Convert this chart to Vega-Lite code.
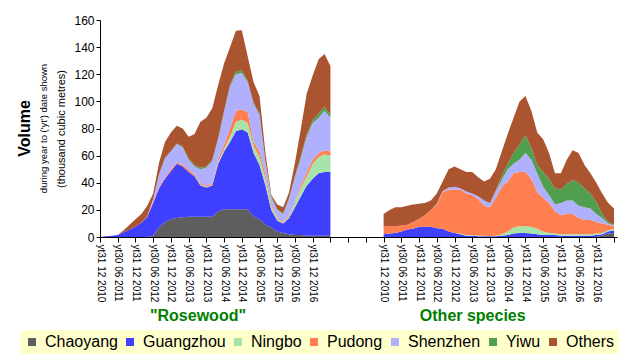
{
  "$schema": "https://vega.github.io/schema/vega-lite/v6.json",
  "width": 517,
  "height": 217,
  "autosize": {"type": "none"},
  "padding": {"left": 100, "top": 20, "right": 11, "bottom": 125},
  "background": "white",
  "datasets": {
    "series": [
      {"s": "Chaoyang", "k": 1}, {"s": "Guangzhou", "k": 2}, {"s": "Ningbo", "k": 3},
      {"s": "Pudong", "k": 4}, {"s": "Shenzhen", "k": 5}, {"s": "Yiwu", "k": 6}, {"s": "Others", "k": 7}
    ]
  },
  "data": {"values": [
    {"m":0,"b":"R","Chaoyang":0,"Guangzhou":0,"Ningbo":0,"Pudong":0,"Shenzhen":0,"Yiwu":0,"Others":0},
    {"m":2,"b":"R","Chaoyang":0,"Guangzhou":0.5,"Ningbo":0,"Pudong":0,"Shenzhen":0,"Yiwu":0,"Others":0},
    {"m":4,"b":"R","Chaoyang":0,"Guangzhou":1,"Ningbo":0,"Pudong":0,"Shenzhen":0,"Yiwu":0,"Others":0},
    {"m":6,"b":"R","Chaoyang":0,"Guangzhou":1.5,"Ningbo":0,"Pudong":0,"Shenzhen":0,"Yiwu":0,"Others":0},
    {"m":8,"b":"R","Chaoyang":0,"Guangzhou":3.5,"Ningbo":0,"Pudong":0,"Shenzhen":0,"Yiwu":0,"Others":1.5},
    {"m":10,"b":"R","Chaoyang":0,"Guangzhou":5.5,"Ningbo":0,"Pudong":0,"Shenzhen":0,"Yiwu":0,"Others":3.5},
    {"m":12,"b":"R","Chaoyang":0,"Guangzhou":7.5,"Ningbo":0,"Pudong":0,"Shenzhen":0,"Yiwu":0,"Others":5.5},
    {"m":14,"b":"R","Chaoyang":0,"Guangzhou":10.5,"Ningbo":0,"Pudong":0,"Shenzhen":0,"Yiwu":0,"Others":6.5},
    {"m":16,"b":"R","Chaoyang":0,"Guangzhou":15,"Ningbo":0,"Pudong":0.5,"Shenzhen":0,"Yiwu":0,"Others":7.5},
    {"m":18,"b":"R","Chaoyang":1,"Guangzhou":24,"Ningbo":0,"Pudong":1,"Shenzhen":2,"Yiwu":0,"Others":4},
    {"m":20,"b":"R","Chaoyang":7,"Guangzhou":29,"Ningbo":0,"Pudong":1,"Shenzhen":9,"Yiwu":0.5,"Others":8.5},
    {"m":22,"b":"R","Chaoyang":11,"Guangzhou":32,"Ningbo":0,"Pudong":1,"Shenzhen":14,"Yiwu":0.5,"Others":11.5},
    {"m":24,"b":"R","Chaoyang":13,"Guangzhou":35.5,"Ningbo":0,"Pudong":1.5,"Shenzhen":13,"Yiwu":0.5,"Others":13.5},
    {"m":26,"b":"R","Chaoyang":14,"Guangzhou":40,"Ningbo":0,"Pudong":1,"Shenzhen":13.5,"Yiwu":0.5,"Others":13},
    {"m":28,"b":"R","Chaoyang":14.5,"Guangzhou":37.5,"Ningbo":0,"Pudong":1,"Shenzhen":13,"Yiwu":0.5,"Others":13.5},
    {"m":30,"b":"R","Chaoyang":15,"Guangzhou":33,"Ningbo":0,"Pudong":1.5,"Shenzhen":7.5,"Yiwu":1,"Others":16},
    {"m":32,"b":"R","Chaoyang":15,"Guangzhou":29.8,"Ningbo":0.2,"Pudong":1,"Shenzhen":6,"Yiwu":1,"Others":23},
    {"m":34,"b":"R","Chaoyang":15,"Guangzhou":23,"Ningbo":0.5,"Pudong":1,"Shenzhen":10.5,"Yiwu":1,"Others":34},
    {"m":36,"b":"R","Chaoyang":15,"Guangzhou":21.5,"Ningbo":0.5,"Pudong":1,"Shenzhen":13,"Yiwu":1,"Others":36},
    {"m":38,"b":"R","Chaoyang":15,"Guangzhou":23,"Ningbo":0.5,"Pudong":1,"Shenzhen":16.5,"Yiwu":1,"Others":38},
    {"m":40,"b":"R","Chaoyang":19,"Guangzhou":35,"Ningbo":1.5,"Pudong":2,"Shenzhen":14.5,"Yiwu":1,"Others":39},
    {"m":42,"b":"R","Chaoyang":20.5,"Guangzhou":42.5,"Ningbo":2,"Pudong":3,"Shenzhen":24,"Yiwu":1,"Others":35},
    {"m":44,"b":"R","Chaoyang":20.5,"Guangzhou":49.5,"Ningbo":4,"Pudong":6,"Shenzhen":31,"Yiwu":1,"Others":28},
    {"m":46,"b":"R","Chaoyang":20.5,"Guangzhou":57.5,"Ningbo":7,"Pudong":8,"Shenzhen":27,"Yiwu":2,"Others":30},
    {"m":48,"b":"R","Chaoyang":20.5,"Guangzhou":59,"Ningbo":7,"Pudong":7.5,"Shenzhen":27,"Yiwu":2,"Others":29.5},
    {"m":50,"b":"R","Chaoyang":20.5,"Guangzhou":56.5,"Ningbo":7,"Pudong":8,"Shenzhen":22,"Yiwu":1,"Others":18},
    {"m":52,"b":"R","Chaoyang":15,"Guangzhou":47,"Ningbo":5,"Pudong":3,"Shenzhen":28,"Yiwu":1,"Others":15},
    {"m":54,"b":"R","Chaoyang":13,"Guangzhou":40,"Ningbo":6,"Pudong":4,"Shenzhen":27,"Yiwu":1,"Others":13},
    {"m":56,"b":"R","Chaoyang":9,"Guangzhou":29,"Ningbo":5,"Pudong":3,"Shenzhen":9,"Yiwu":1,"Others":6},
    {"m":58,"b":"R","Chaoyang":7,"Guangzhou":13,"Ningbo":3,"Pudong":2,"Shenzhen":4,"Yiwu":1,"Others":1},
    {"m":60,"b":"R","Chaoyang":4,"Guangzhou":8,"Ningbo":1,"Pudong":1,"Shenzhen":6,"Yiwu":0.5,"Others":3.5},
    {"m":62,"b":"R","Chaoyang":3,"Guangzhou":7,"Ningbo":0.5,"Pudong":0.5,"Shenzhen":6,"Yiwu":0.5,"Others":4.5},
    {"m":64,"b":"R","Chaoyang":2,"Guangzhou":12,"Ningbo":1,"Pudong":1,"Shenzhen":12,"Yiwu":1,"Others":4},
    {"m":66,"b":"R","Chaoyang":1.5,"Guangzhou":20.5,"Ningbo":3,"Pudong":1,"Shenzhen":18,"Yiwu":1,"Others":10},
    {"m":68,"b":"R","Chaoyang":1.5,"Guangzhou":28.5,"Ningbo":6,"Pudong":2,"Shenzhen":20,"Yiwu":2,"Others":20},
    {"m":70,"b":"R","Chaoyang":1,"Guangzhou":37,"Ningbo":7,"Pudong":3,"Shenzhen":26,"Yiwu":2,"Others":30},
    {"m":72,"b":"R","Chaoyang":1,"Guangzhou":42,"Ningbo":11,"Pudong":3,"Shenzhen":27,"Yiwu":2,"Others":33},
    {"m":74,"b":"R","Chaoyang":1,"Guangzhou":46,"Ningbo":12,"Pudong":3,"Shenzhen":26,"Yiwu":3,"Others":40},
    {"m":76,"b":"R","Chaoyang":1,"Guangzhou":47,"Ningbo":13,"Pudong":3,"Shenzhen":29,"Yiwu":3,"Others":39},
    {"m":78,"b":"R","Chaoyang":1,"Guangzhou":47,"Ningbo":12,"Pudong":3,"Shenzhen":25,"Yiwu":2,"Others":36},
    {"m":96,"b":"O","Chaoyang":0,"Guangzhou":2,"Ningbo":0,"Pudong":6,"Shenzhen":0,"Yiwu":0,"Others":9},
    {"m":98,"b":"O","Chaoyang":0,"Guangzhou":2.5,"Ningbo":0,"Pudong":5.5,"Shenzhen":0,"Yiwu":0,"Others":12},
    {"m":100,"b":"O","Chaoyang":0,"Guangzhou":3,"Ningbo":0,"Pudong":5,"Shenzhen":0,"Yiwu":0,"Others":14},
    {"m":102,"b":"O","Chaoyang":0,"Guangzhou":4,"Ningbo":0,"Pudong":4.5,"Shenzhen":0,"Yiwu":0,"Others":13.5},
    {"m":104,"b":"O","Chaoyang":0,"Guangzhou":5.5,"Ningbo":0,"Pudong":3.5,"Shenzhen":0,"Yiwu":0,"Others":14},
    {"m":106,"b":"O","Chaoyang":0,"Guangzhou":6,"Ningbo":0,"Pudong":5,"Shenzhen":0,"Yiwu":0,"Others":13},
    {"m":108,"b":"O","Chaoyang":0,"Guangzhou":7.5,"Ningbo":0,"Pudong":6,"Shenzhen":0,"Yiwu":0,"Others":11},
    {"m":110,"b":"O","Chaoyang":0,"Guangzhou":7.5,"Ningbo":0,"Pudong":8.5,"Shenzhen":0,"Yiwu":0,"Others":9},
    {"m":112,"b":"O","Chaoyang":0,"Guangzhou":7.5,"Ningbo":0,"Pudong":12.5,"Shenzhen":0,"Yiwu":0,"Others":7},
    {"m":114,"b":"O","Chaoyang":0,"Guangzhou":6.5,"Ningbo":0,"Pudong":17.5,"Shenzhen":0.5,"Yiwu":0,"Others":7.5},
    {"m":116,"b":"O","Chaoyang":0,"Guangzhou":6,"Ningbo":0,"Pudong":27,"Shenzhen":1,"Yiwu":0,"Others":7},
    {"m":118,"b":"O","Chaoyang":0,"Guangzhou":4,"Ningbo":0,"Pudong":31,"Shenzhen":1.5,"Yiwu":0,"Others":13.5},
    {"m":120,"b":"O","Chaoyang":0,"Guangzhou":3,"Ningbo":0,"Pudong":32,"Shenzhen":2,"Yiwu":0,"Others":15},
    {"m":122,"b":"O","Chaoyang":0,"Guangzhou":2,"Ningbo":0.5,"Pudong":32.5,"Shenzhen":1,"Yiwu":0,"Others":14},
    {"m":124,"b":"O","Chaoyang":0,"Guangzhou":1,"Ningbo":0.5,"Pudong":30.5,"Shenzhen":1.5,"Yiwu":0,"Others":14.5},
    {"m":126,"b":"O","Chaoyang":0,"Guangzhou":1,"Ningbo":0.5,"Pudong":29.5,"Shenzhen":1,"Yiwu":0,"Others":16},
    {"m":128,"b":"O","Chaoyang":0,"Guangzhou":0.5,"Ningbo":0.5,"Pudong":27,"Shenzhen":2,"Yiwu":0,"Others":14},
    {"m":130,"b":"O","Chaoyang":0,"Guangzhou":0.5,"Ningbo":0.5,"Pudong":22,"Shenzhen":4,"Yiwu":0,"Others":14},
    {"m":132,"b":"O","Chaoyang":0,"Guangzhou":0.5,"Ningbo":0,"Pudong":21.5,"Shenzhen":3,"Yiwu":0,"Others":18},
    {"m":134,"b":"O","Chaoyang":0,"Guangzhou":0.5,"Ningbo":0.5,"Pudong":28,"Shenzhen":5,"Yiwu":0.5,"Others":15.5},
    {"m":136,"b":"O","Chaoyang":0,"Guangzhou":1,"Ningbo":1,"Pudong":35,"Shenzhen":5,"Yiwu":3,"Others":18},
    {"m":138,"b":"O","Chaoyang":0,"Guangzhou":1.5,"Ningbo":2.5,"Pudong":37,"Shenzhen":9,"Yiwu":4,"Others":22},
    {"m":140,"b":"O","Chaoyang":0,"Guangzhou":2.5,"Ningbo":4.5,"Pudong":40,"Shenzhen":7,"Yiwu":8,"Others":26},
    {"m":142,"b":"O","Chaoyang":0,"Guangzhou":3,"Ningbo":5,"Pudong":40,"Shenzhen":9,"Yiwu":11,"Others":32},
    {"m":144,"b":"O","Chaoyang":0,"Guangzhou":3,"Ningbo":5,"Pudong":40,"Shenzhen":14,"Yiwu":13,"Others":29},
    {"m":146,"b":"O","Chaoyang":0,"Guangzhou":2.5,"Ningbo":5,"Pudong":35.5,"Shenzhen":14,"Yiwu":9,"Others":27},
    {"m":148,"b":"O","Chaoyang":0,"Guangzhou":2,"Ningbo":4,"Pudong":27,"Shenzhen":14,"Yiwu":6,"Others":24},
    {"m":150,"b":"O","Chaoyang":0,"Guangzhou":1.5,"Ningbo":2.5,"Pudong":25,"Shenzhen":8,"Yiwu":11,"Others":24},
    {"m":152,"b":"O","Chaoyang":0,"Guangzhou":1.5,"Ningbo":1.5,"Pudong":22,"Shenzhen":6,"Yiwu":12,"Others":19},
    {"m":154,"b":"O","Chaoyang":0,"Guangzhou":1.5,"Ningbo":1,"Pudong":16.5,"Shenzhen":5,"Yiwu":12,"Others":11},
    {"m":156,"b":"O","Chaoyang":0,"Guangzhou":1,"Ningbo":1,"Pudong":14,"Shenzhen":9,"Yiwu":10,"Others":12},
    {"m":158,"b":"O","Chaoyang":0,"Guangzhou":1,"Ningbo":1,"Pudong":15,"Shenzhen":10,"Yiwu":12,"Others":18},
    {"m":160,"b":"O","Chaoyang":0,"Guangzhou":1,"Ningbo":1,"Pudong":15,"Shenzhen":10,"Yiwu":15,"Others":22},
    {"m":162,"b":"O","Chaoyang":0,"Guangzhou":1,"Ningbo":1,"Pudong":12,"Shenzhen":9,"Yiwu":17,"Others":22},
    {"m":164,"b":"O","Chaoyang":0,"Guangzhou":1,"Ningbo":1,"Pudong":10.5,"Shenzhen":9.5,"Yiwu":14,"Others":17},
    {"m":166,"b":"O","Chaoyang":0,"Guangzhou":1,"Ningbo":1,"Pudong":10.5,"Shenzhen":8.5,"Yiwu":11,"Others":15},
    {"m":168,"b":"O","Chaoyang":0,"Guangzhou":1.5,"Ningbo":1,"Pudong":8.5,"Shenzhen":6,"Yiwu":9,"Others":14},
    {"m":170,"b":"O","Chaoyang":1,"Guangzhou":1,"Ningbo":1,"Pudong":7,"Shenzhen":4,"Yiwu":3,"Others":15},
    {"m":172,"b":"O","Chaoyang":2.5,"Guangzhou":1.5,"Ningbo":1,"Pudong":4,"Shenzhen":1,"Yiwu":1,"Others":14},
    {"m":174,"b":"O","Chaoyang":3,"Guangzhou":2,"Ningbo":1,"Pudong":2,"Shenzhen":0.5,"Yiwu":0.5,"Others":12}
  ]},
  "transform": [
    {"fold": ["Chaoyang", "Guangzhou", "Ningbo", "Pudong", "Shenzhen", "Yiwu", "Others"], "as": ["s", "v"]},
    {"lookup": "s", "from": {"data": {"name": "series"}, "key": "s", "fields": ["k"]}}
  ],
  "title": {
    "text": "Volume",
    "subtitle": "during year to ('yt') date shown",
    "orient": "left",
    "anchor": "middle",
    "font": "Liberation Sans",
    "fontSize": 16,
    "fontWeight": "bold",
    "color": "black",
    "subtitleFont": "Liberation Sans",
    "subtitleFontSize": 9.5,
    "subtitleColor": "black",
    "subtitlePadding": 6,
    "offset": -28
  },
  "layer": [
    {
      "transform": [{"filter": "datum.b == 'R'"}],
      "mark": {"type": "area", "opacity": 1, "interpolate": "linear"},
      "encoding": {
        "x": {
          "field": "m", "type": "quantitative",
          "scale": {"domain": [0, 175], "nice": false, "zero": false},
          "axis": {
            "values": [0,6,12,18,24,30,36,42,48,54,60,66,72,78,84,90,96,102,108,114,120,126,132,138,144,150,156,162,168,174],
            "labelExpr": "datum.value > 168 || (datum.value > 72 && datum.value < 96) ? '' : (datum.value % 12 == 0 ? 'yt31 12 ' + (2010 + (datum.value % 96) / 12) : 'yt30 06 ' + (2010 + ((datum.value % 96) + 6) / 12))",
            "labelAngle": 90, "labelAlign": "left", "labelBaseline": "middle",
            "labelFont": "Liberation Sans", "labelFontSize": 10, "labelColor": "black",
            "labelPadding": 2, "labelFlush": false, "labelOverlap": false,
            "tickColor": "black", "tickSize": 5, "domainColor": "black",
            "grid": false, "title": null
          }
        },
        "y": {
          "field": "v", "type": "quantitative", "stack": "zero",
          "scale": {"domain": [0, 160], "nice": false},
          "axis": {
            "values": [0,20,40,60,80,100,120,140,160],
            "labelFont": "Liberation Sans", "labelFontSize": 12, "labelColor": "black",
            "labelPadding": 2, "labelOverlap": false, "labelFlush": false,
            "tickSize": 4, "tickColor": "black", "domainColor": "black",
            "grid": false,
            "title": "(thousand cubic metres)",
            "titleFont": "Liberation Sans", "titleFontSize": 11, "titleFontWeight": "normal",
            "titleColor": "black", "titlePadding": 7
          }
        },
        "color": {
          "field": "s", "type": "nominal",
          "scale": {
            "domain": ["Chaoyang", "Guangzhou", "Ningbo", "Pudong", "Shenzhen", "Yiwu", "Others"],
            "range": ["#5e5e5e", "#3f3fff", "#a8e4a8", "#ff7f50", "#b0b0ff", "#4f9f4f", "#aa5530"]
          },
          "legend": {
            "orient": "none", "legendX": -80, "legendY": 310,
            "direction": "horizontal", "columns": 7, "title": null,
            "fillColor": "#FFFFCC", "padding": 4,
            "symbolType": "square", "symbolSize": 64, "symbolStrokeWidth": 0, "symbolOpacity": 1,
            "labelFont": "Liberation Sans", "labelFontSize": 16, "labelColor": "black",
            "labelOffset": 5, "columnPadding": 4, "labelLimit": 200
          }
        },
        "order": {"field": "k", "type": "quantitative", "sort": "ascending"}
      }
    },
    {
      "transform": [{"filter": "datum.b == 'O'"}],
      "mark": {"type": "area", "opacity": 1, "interpolate": "linear"},
      "encoding": {
        "x": {"field": "m", "type": "quantitative", "axis": null},
        "y": {
          "field": "v", "type": "quantitative", "stack": "zero",
          "axis": {
            "values": [0,20,40,60,80,100,120,140,160],
            "labelFont": "Liberation Sans", "labelFontSize": 12, "labelColor": "black",
            "labelPadding": 2, "labelOverlap": false, "labelFlush": false,
            "tickSize": 4, "tickColor": "black", "domainColor": "black",
            "grid": false,
            "title": "(thousand cubic metres)",
            "titleFont": "Liberation Sans", "titleFontSize": 11, "titleFontWeight": "normal",
            "titleColor": "black", "titlePadding": 7
          }
        },
        "color": {"field": "s", "type": "nominal"},
        "order": {"field": "k", "type": "quantitative", "sort": "ascending"}
      }
    },
    {
      "mark": {"type": "rule", "opacity": 0},
      "encoding": {
        "x": {
          "field": "m", "type": "quantitative",
          "axis": {
            "orient": "bottom", "values": [33, 126],
            "labelExpr": "datum.value < 80 ? '\"Rosewood\"' : 'Other species'",
            "labelFont": "Liberation Sans", "labelFontSize": 16, "labelFontWeight": "bold",
            "labelColor": "#008000", "labelAngle": 0, "labelPadding": 0,
            "labelFlush": false, "labelOverlap": false,
            "ticks": false, "domain": false, "grid": false,
            "offset": 70, "title": null
          }
        }
      }
    }
  ],
  "resolve": {"axis": {"x": "independent"}},
  "config": {
    "font": "Liberation Sans",
    "view": {"stroke": null}
  }
}
